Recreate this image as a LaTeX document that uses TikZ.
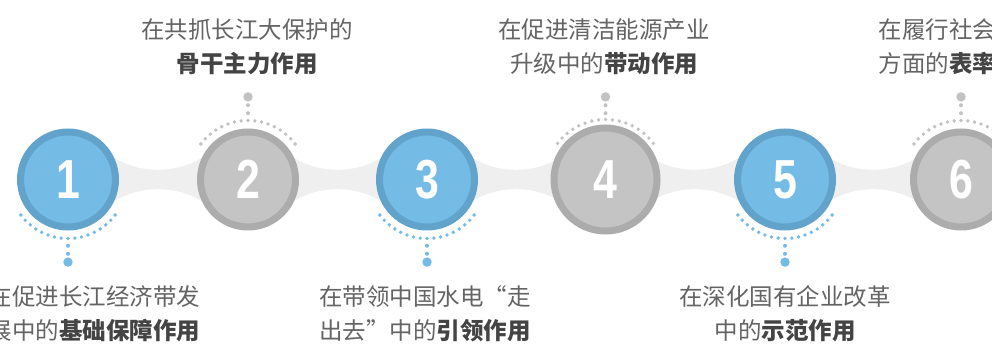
\documentclass[tikz,border=0pt]{standalone}
\usepackage{fontspec}
\setmainfont{Noto Sans CJK SC}
\newfontfamily\numfont{Liberation Sans}

\definecolor{bluefill}{HTML}{74BBE6}
\definecolor{bluering}{HTML}{62A3CB}
\definecolor{grayfill}{HTML}{C3C4C3}
\definecolor{grayring}{HTML}{ABACAB}
\definecolor{bandgray}{HTML}{EFEFEF}
\definecolor{dotgray}{HTML}{C2C2C2}
\definecolor{textgray}{HTML}{646464}
\definecolor{textdark}{HTML}{444444}

\tikzset{
  stepcircle/.style={circle, line width=7pt, minimum size=95pt, inner sep=0pt,
    text=white, font=\numfont\bfseries\fontsize{55}{55}\selectfont},
  bluestep/.style={stepcircle, draw=bluering, fill=bluefill},
  graystep/.style={stepcircle, draw=grayring, fill=grayfill},
  caption/.style={align=center, text=textgray, font=\fontsize{23.5}{34}\selectfont},
}
\newcommand{\hl}[1]{{\bfseries\color{textdark}#1}}
\newcommand{\digit}[1]{\scalebox{0.78}[1]{#1}}

\begin{document}
\begin{tikzpicture}[x=1pt,y=1pt]
    \useasboundingbox (0,0) rectangle (992,345);
    \clip (0,0) rectangle (992,345);

    % Draw the band joining the circles
    \fill[bandgray] (68,130) rectangle (992,201);
    \foreach \mx in {158,337.5,516,695,873} {
        \fill[white] (\mx,260.2) circle (85);
        \fill[white] (\mx,70.8) circle (85);
    }

    % Draw the numbered circles
    \node[bluestep] (c1) at (68,165.5) {\digit{1}};
    \node[graystep] (c2) at (248,165.5) {\digit{2}};
    \node[bluestep] (c3) at (427,165.5) {\digit{3}};
    \node[graystep, minimum size=103pt] (c4) at (605.5,165.5) {\digit{4}};
    \node[bluestep] (c5) at (785,165.5) {\digit{5}};
    \node[graystep] (c6) at (961,165.5) {\digit{6}};

    % Draw the dotted arcs and stems
    \foreach \c in {c1,c3,c5} {
        \foreach \k in {0,...,16}
            \fill[bluefill] (\c) ++({-143+\k*6.625}:59) circle (1.9);
        \fill[bluefill] (\c) ++(0,-66.3) circle (2) ++(0,-8) circle (2) ++(0,-8.3) circle (4.7);
    }
    \foreach \c/\r in {c2/59,c4/60,c6/59} {
        \foreach \k in {0,...,16}
            \fill[dotgray] (\c) ++({37+\k*6.625}:\r) circle (1.9);
        \fill[dotgray] (\c) ++(0,66.3) circle (2) ++(0,8) circle (2) ++(0,8.3) circle (4.7);
    }

    % Draw the captions
    \node[caption, anchor=east] (t1) at (204,31.25) {在促进长江经济带发\\展中的\hl{基础保障作用}};
    \node[caption] (t2) at (247,298.5) {在共抓长江大保护的\\\hl{骨干主力作用}};
    \node[caption] (t3) at (425,31.25) {在带领中国水电“走\\出去”中的\hl{引领作用}};
    \node[caption] (t4) at (604,298.5) {在促进清洁能源产业\\升级中的\hl{带动作用}};
    \node[caption] (t5) at (785,31.25) {在深化国有企业改革\\中的\hl{示范作用}};
    \node[caption] (t6) at (961,298.5) {在履行社会责任\\方面的\hl{表率作用}};
\end{tikzpicture}
\end{document}
